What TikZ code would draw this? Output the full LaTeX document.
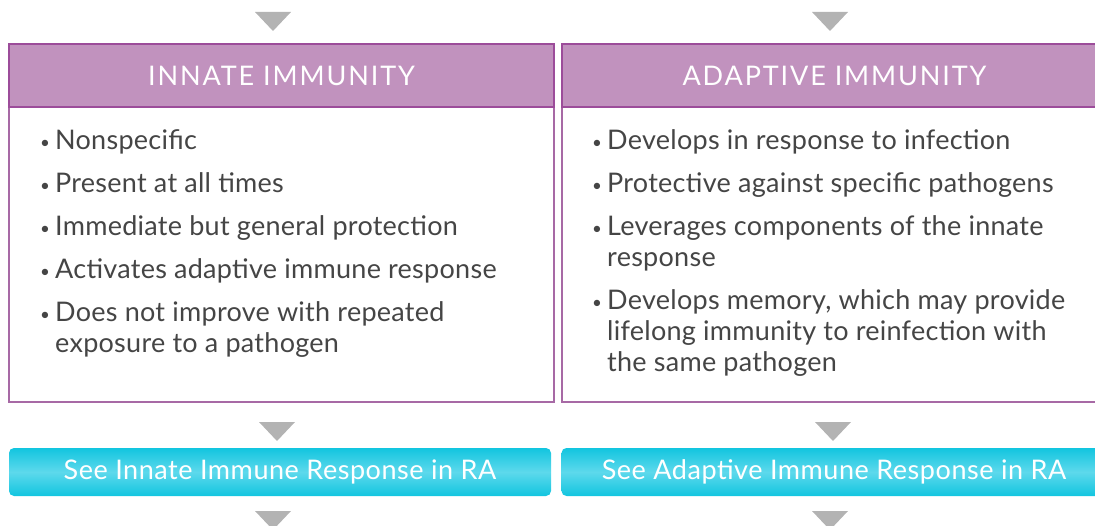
\documentclass[tikz,border=0pt]{standalone}
\usepackage{fontspec}
\setmainfont{Lato}
\newfontfamily\hdrfont[LetterSpace=7]{Lato}
\newfontfamily\itemfont[LetterSpace=1]{Lato}
\newfontfamily\btnfont[LetterSpace=2]{Lato}
\definecolor{hdrfill}{HTML}{C192BE}
\definecolor{hdrline}{HTML}{9C4C9A}
\definecolor{bodyline}{HTML}{A769A5}
\definecolor{txt}{HTML}{454545}
\definecolor{cyanA}{HTML}{12C5DF}
\definecolor{cyanB}{HTML}{5DD9EC}
\definecolor{tri}{HTML}{B3B3B3}
\newcommand{\bul}{\makebox[15pt][l]{\raisebox{0.5pt}{\fontsize{17}{17}\selectfont•}}}
\tikzset{
  hdr/.style={draw=hdrline, line width=2pt, fill=hdrfill, text=white, font=\hdrfont\fontsize{27}{30}\selectfont, inner sep=0pt},
  bodybox/.style={draw=bodyline, line width=2pt, fill=white, inner sep=0pt},
  btn/.style={rounded corners=5pt, top color=cyanA, bottom color=cyanA, middle color=cyanB, text=white, font=\btnfont\fontsize{27}{30}\selectfont, inner sep=0pt},
  item/.style={anchor=north west, align=left, text=txt, font=\itemfont\fontsize{27}{31}\selectfont, inner sep=0pt},
  arr/.style={fill=tri}
}
\begin{document}
\begin{tikzpicture}[x=1pt,y=-1pt]
\useasboundingbox (0,0) rectangle (1095,526);
% boxes
\node[bodybox, minimum width=545, minimum height=296] (b1) at (281.5,254) {};
\node[bodybox, minimum width=545, minimum height=296] (b2) at (834.5,254) {};
\node[hdr, minimum width=545, minimum height=63] (h1) at (281.5,75.5) {INNATE IMMUNITY};
\node[hdr, minimum width=545, minimum height=63] (h2) at (834.5,75.5) {ADAPTIVE IMMUNITY};
% buttons
\node[btn, minimum width=542, minimum height=48] (r1) at (280,472) {See Innate Immune Response in RA};
\node[btn, minimum width=545, minimum height=48] (r2) at (834,472) {See Adaptive Immune Response in RA};
% triangles
\coordinate (t1) at (273,12);
\coordinate (t2) at (830,12);
\coordinate (m1) at (277,422);
\coordinate (m2) at (833,422);
\coordinate (e1) at (273,511);
\coordinate (e2) at (830,511);
\foreach \c in {t1,t2,m1,m2,e1,e2}{
  \fill[arr] ([xshift=-18pt]\c) -- ([xshift=18pt]\c) -- ([yshift=-19pt]\c) -- cycle;
}
% left items
\node[item] (l1) at (40,129) {\bul Nonspecific};
\node[item] (l2) at (40,172) {\bul Present at all times};
\node[item] (l3) at (40,215) {\bul Immediate but general protection};
\node[item] (l4) at (40,258) {\bul Activates adaptive immune response};
\node[item] (l5) at (40,301) {\bul Does not improve with repeated\\\hspace*{15pt}exposure to a pathogen};
% right items
\node[item] (q1) at (592,129) {\bul Develops in response to infection};
\node[item] (q2) at (592,172) {\bul Protective against specific pathogens};
\node[item] (q3) at (592,215) {\bul Leverages components of the innate\\\hspace*{15pt}response};
\node[item] (q4) at (592,289) {\bul Develops memory, which may provide\\\hspace*{15pt}lifelong immunity to reinfection with\\\hspace*{15pt}the same pathogen};
\end{tikzpicture}
\end{document}
